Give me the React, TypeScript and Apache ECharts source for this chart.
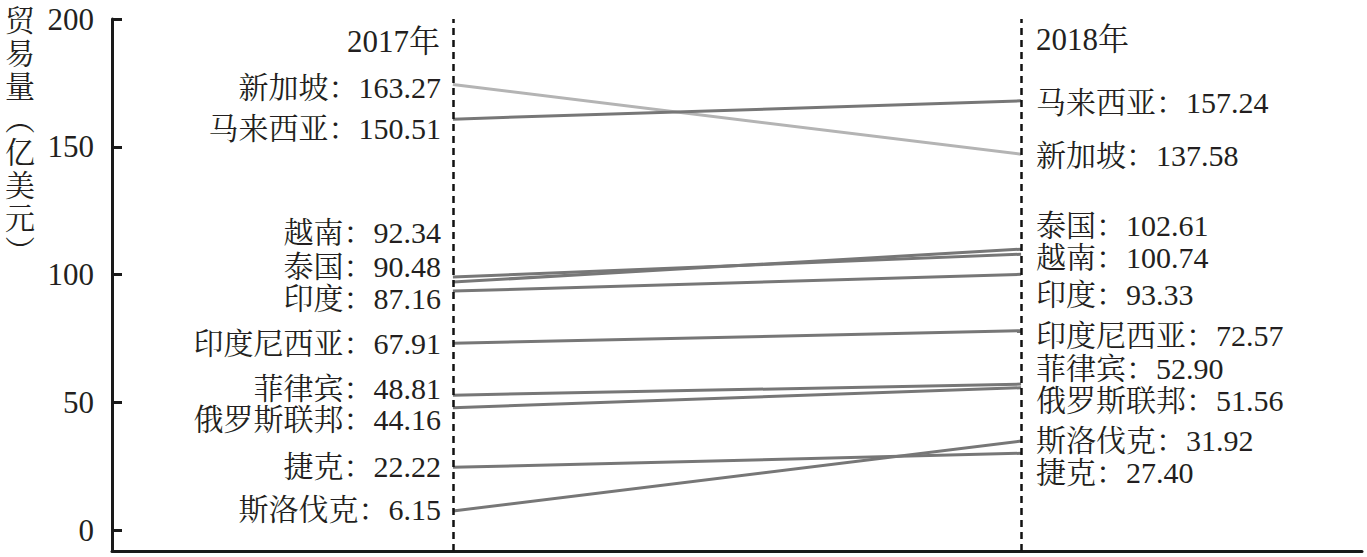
import React, { useEffect, useRef } from "react";
import * as echarts from "echarts";

const countries = ["新加坡", "马来西亚", "越南", "泰国", "印度", "印度尼西亚", "菲律宾", "俄罗斯联邦", "捷克", "斯洛伐克"];
const values2017 = [163.27, 150.51, 92.34, 90.48, 87.16, 67.91, 48.81, 44.16, 22.22, 6.15];
const values2018 = [137.58, 157.24, 100.74, 102.61, 93.33, 72.57, 52.9, 51.56, 27.4, 31.92];
const years = [2017, 2018];
const yearLabels = ["2017年", "2018年"];
const yTicks = [0, 50, 100, 150, 200];
const yAxisName = "贸易量（亿美元）";

// label layout (vertical nudges, px) — layout only, not data
const leftNudge = [3, 9, -45, -16, 7, 0, -7, 12, -1, -1];
const rightNudge = [1, 2, 3, -24, 20, 5, -16, 13, 19, -1];

const FONT = "'Liberation Serif','Noto Serif CJK SC','Noto Sans CJK SC',serif";
const TEXT = "#231f20";

export default function App() {
  const ref = useRef<HTMLDivElement>(null);

  useEffect(() => {
    if (!ref.current) return;
    const chart = echarts.init(ref.current, null, { renderer: "svg" });

    const series: any[] = countries.map((c, i) => {
      const col = i === 0 ? "#b4b4b4" : "#777777";
      return {
        type: "line",
        name: c,
        xAxisIndex: 0,
        yAxisIndex: 1,
        symbol: "circle",
        symbolSize: 0,
        showSymbol: true,
        silent: true,
        z: 3,
        lineStyle: { color: col, width: 3 },
        itemStyle: { color: col },
        emphasis: { disabled: true },
        label: { fontSize: 30, fontFamily: FONT, color: TEXT },
        data: [
          {
            value: [years[0], values2017[i]],
            label: {
              show: true,
              position: "left",
              distance: 12,
              offset: [0, leftNudge[i]],
              formatter: `${c}：${values2017[i].toFixed(2)}`,
            },
          },
          {
            value: [years[1], values2018[i]],
            label: {
              show: true,
              position: "right",
              distance: 15,
              offset: [0, rightNudge[i]],
              formatter: `${c}：${values2018[i].toFixed(2)}`,
            },
          },
        ],
      };
    });

    series[0].markLine = {
      silent: true,
      symbol: "none",
      label: { show: false },
      lineStyle: { type: [7, 5], color: "#111", width: 2.5 },
      data: years.map((y) => ({ xAxis: y })),
      z: 4,
    };

    chart.setOption({
      animation: false,
      grid: { left: 112, right: 5, top: 19, bottom: 6, containLabel: false },
      xAxis: {
        type: "value",
        min: 2016.4,
        max: 2018.6,
        axisLine: { show: true, onZero: false, lineStyle: { color: "#1a1a1a", width: 3 } },
        axisTick: { show: false },
        axisLabel: { show: false },
        splitLine: { show: false },
      },
      yAxis: [
        {
          type: "value",
          min: -8.2,
          max: 200,
          axisLine: { show: true, onZero: false, lineStyle: { color: "#1a1a1a", width: 3 } },
          axisTick: {
            show: true,
            inside: true,
            length: 10,
            customValues: yTicks,
            lineStyle: { color: "#1a1a1a", width: 3 },
          },
          axisLabel: {
            show: true,
            customValues: yTicks,
            margin: 18,
            fontSize: 31,
            fontFamily: FONT,
            color: TEXT,
          },
          splitLine: { show: false },
        },
        {
          type: "value",
          show: false,
          min: -8.6,
          max: 187.4,
          splitLine: { show: false },
        },
      ],
      graphic: [
        {
          type: "text",
          left: 5,
          top: 4,
          style: {
            text: yAxisName
              .replace("（", "︵")
              .replace("）", "︶")
              .split("")
              .join("\n"),
            font: `30px ${FONT}`,
            lineHeight: 33,
            fill: TEXT,
            align: "center",
            textAlign: "center",
          },
        },
        {
          type: "text",
          right: 1367 - 440,
          top: 26,
          style: { text: yearLabels[0], font: `31px ${FONT}`, fill: TEXT },
        },
        {
          type: "text",
          left: 1036,
          top: 24,
          style: { text: yearLabels[1], font: `31px ${FONT}`, fill: TEXT },
        },
      ],
      series,
    });

    return () => chart.dispose();
  }, []);

  return (
    <div
      ref={ref}
      style={{ position: "fixed", left: 0, top: 0, width: 1367, height: 557, background: "#fff" }}
    />
  );
}
